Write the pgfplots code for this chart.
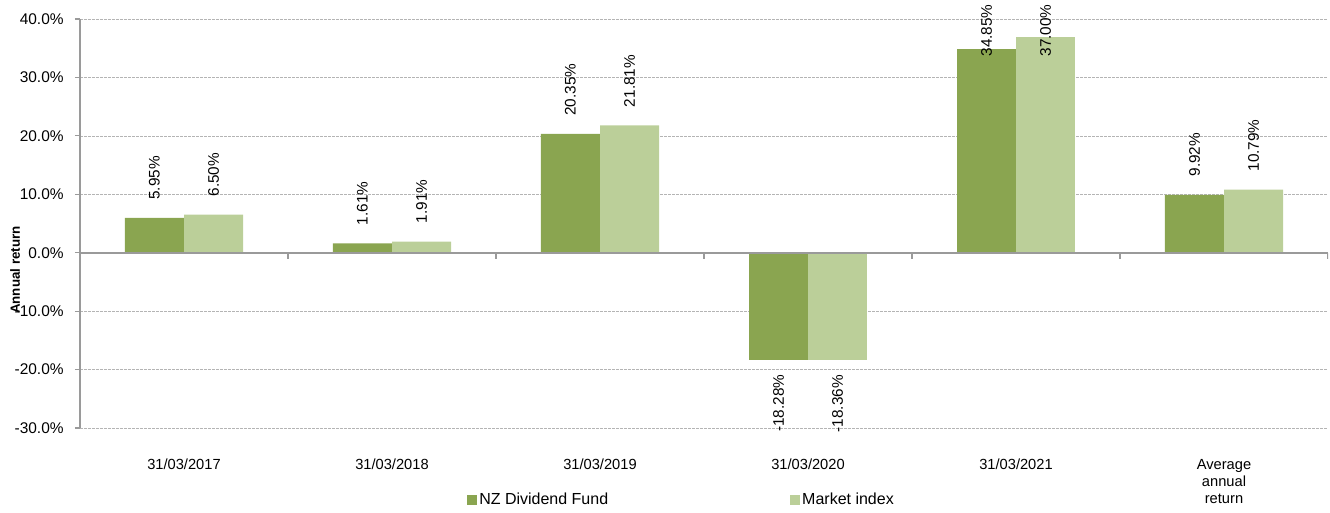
\documentclass[border=0pt]{standalone}
\usepackage{pgfplots}
\pgfplotsset{compat=1.18}
\usepackage{fontspec}
\setmainfont{Liberation Sans}
\definecolor{darkg}{HTML}{8AA550}
\definecolor{lightg}{HTML}{BBCF99}
\definecolor{axgray}{HTML}{9A9A9A}
\definecolor{gridgray}{HTML}{B4B4B4}
\begin{document}
\begin{tikzpicture}
\begin{axis}[
  at={(0,0)}, anchor=south west,
  scale only axis, width=936pt, height=306.75pt,
  xmin=-0.5, xmax=5.5, ymin=-30, ymax=40,
  ybar, bar width=0.284,
  /pgf/number format/assume math mode=true,
  axis y line*=left, axis x line*=bottom,
  x axis line style={draw=none},
  y axis line style={axgray, line width=1.2pt},
  xtick={0,1,2,3,4,5},
  xticklabels={31/03/2017,31/03/2018,31/03/2019,31/03/2020,31/03/2021,{Average\\annual\\return}},
  xtick style={draw=none},
  xticklabel style={font=\fontsize{11}{13}\selectfont, align=center, yshift=-16pt},
  ytick={-30,-20,...,40},
  ytick style={axgray, line width=0.9pt},
  tick align=outside, major tick length=3.75pt,
  yticklabel={\pgfmathprintnumber[fixed,fixed zerofill,precision=1]{\tick}\%},
  yticklabel style={font=\fontsize{11.6}{13}\selectfont, xshift=-5pt},
  ymajorgrids, major grid style={gridgray, dash pattern=on 2pt off 1pt, line width=0.5pt},
  ylabel={\bfseries Annual return},
  ylabel style={font=\fontsize{12}{14}\selectfont},
  every axis y label/.style={at={(rel axis cs:0,0.386)}, xshift=-48.75pt, rotate=90, anchor=center},
  legend style={at={(0.482,-0.176)}, anchor=center, draw=none, fill=none,
    legend columns=2, font=\fontsize{12}{14}\selectfont,
    /tikz/every even column/.append style={column sep=134pt}},
  legend image code/.code={\fill[#1] (0pt,-3.75pt) rectangle (7.5pt,3.75pt);},
  nodes near coords={\pgfmathprintnumber[fixed,fixed zerofill,precision=2]{\pgfplotspointmeta}\%},
  lbl/.style={nodes near coords style={font=\fontsize{11.5}{13}\selectfont, text=black, inner sep=0pt,
    yshift=#1, rotate=90, anchor=west}},
  lblneg/.style={nodes near coords style={font=\fontsize{11.5}{13}\selectfont, text=black, inner sep=0pt,
    yshift=-11.25pt, rotate=90, anchor=east}},
]
% NZ Dividend Fund
\addplot[fill=darkg, draw=none, bar shift=-0.142, lbl=13.5pt]
  coordinates {(0,5.95) (1,1.61) (2,20.35) (5,9.92)};
\addplot[fill=lightg, draw=none, bar shift=0.142, lbl=13.5pt]
  coordinates {(0,6.50) (1,1.91) (2,21.81) (5,10.79)};
\addplot[fill=darkg, draw=none, bar shift=-0.142, lblneg, forget plot]
  coordinates {(3,-18.28)};
\addplot[fill=lightg, draw=none, bar shift=0.142, lblneg, forget plot]
  coordinates {(3,-18.36)};
\addplot[fill=darkg, draw=none, bar shift=-0.142, lbl=-5.65pt, forget plot]
  coordinates {(4,34.85)};
\addplot[fill=lightg, draw=none, bar shift=0.142, lbl=-15.07pt, forget plot]
  coordinates {(4,37.00)};
\legend{NZ Dividend Fund, Market index}
\draw[axgray, line width=1.2pt] (axis cs:-0.5,0) -- (axis cs:5.5,0);
\pgfplotsinvokeforeach{-0.5,0.5,1.5,2.5,3.5,4.5,5.5}{
  \draw[axgray, line width=0.9pt] (axis cs:#1,0) -- ++(0pt,-4.5pt);
}
\end{axis}
\pgfresetboundingbox
\path (-60pt,-63pt) rectangle (937.5pt,321pt);
\end{tikzpicture}
\end{document}
